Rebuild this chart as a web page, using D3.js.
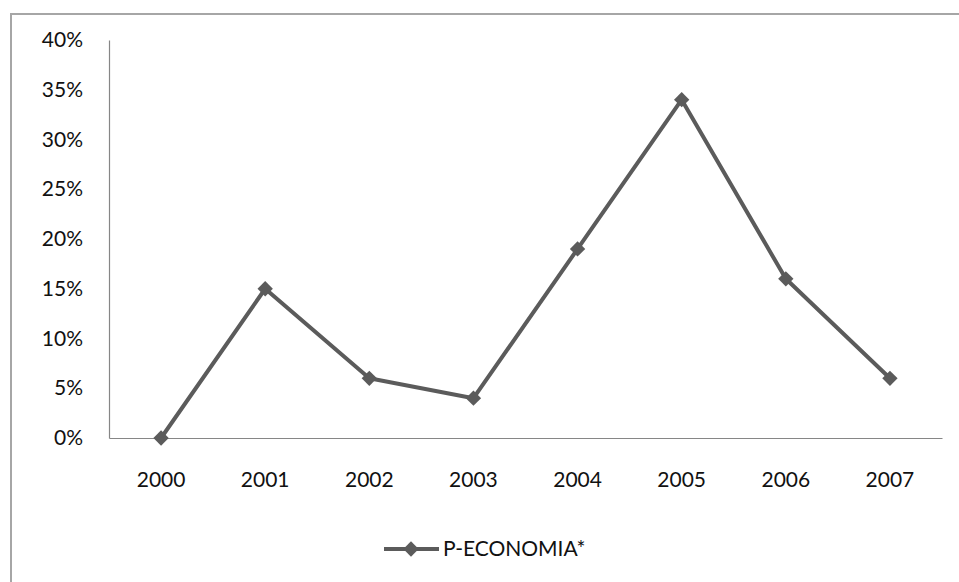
<!DOCTYPE html>
<html><head><meta charset="utf-8">
<script src="https://cdn.jsdelivr.net/npm/d3@7"></script>
<style>html,body{margin:0;padding:0;background:#fff;}svg{display:block;}</style>
</head><body>
<svg id="chart" width="959" height="582"></svg>
<script>
const categories = ["2000","2001","2002","2003","2004","2005","2006","2007"];
const values = [0, 15, 6, 4, 19, 34, 16, 6];
const yTicks = [0, 5, 10, 15, 20, 25, 30, 35, 40];
const seriesName = "P-ECONOMIA*";

const svg = d3.select("#chart");
const font = "Lato, 'Open Sans', sans-serif";
const fs = 21;
const lineColor = "#5b5b5b";
const textColor = "#111";

svg.append("rect").attr("x", 11).attr("y", 14).attr("width", 1000).attr("height", 1000)
  .attr("fill", "none").attr("stroke", "#a6a6a6").attr("stroke-width", 2);

const m = {left: 109, right: 942, top: 40, bottom: 438};
const x = d3.scaleBand().domain(categories).range([m.left, m.right]);
const y = d3.scaleLinear().domain([0, 40]).range([m.bottom, m.top]);

const yAxis = svg.append("g").attr("transform", `translate(${m.left},0)`)
  .call(d3.axisLeft(y).tickValues(yTicks).tickFormat(d => d + "%").tickSize(0).tickPadding(26));
yAxis.select(".domain").attr("stroke", "#868686").attr("stroke-width", 1.2);
yAxis.selectAll("text").attr("font-family", font).attr("font-size", fs).attr("fill", textColor);

const xAxis = svg.append("g").attr("transform", `translate(0,${m.bottom})`)
  .call(d3.axisBottom(x).tickSize(0).tickPadding(34));
xAxis.select(".domain").attr("stroke", "#868686").attr("stroke-width", 1.2);
xAxis.selectAll("text").attr("font-family", font).attr("font-size", fs).attr("fill", textColor);

const pts = categories.map((c, i) => [x(c) + x.bandwidth() / 2, y(values[i])]);
svg.append("path").datum(pts).attr("d", d3.line()).attr("fill", "none")
  .attr("stroke", lineColor).attr("stroke-width", 4).attr("stroke-linejoin", "round");

const diamond = d3.symbol().type(d3.symbolDiamond2).size(150);
svg.selectAll(".mk").data(pts).join("path").attr("class", "mk")
  .attr("d", diamond).attr("transform", d => `translate(${d[0]},${d[1]})`).attr("fill", lineColor);

const lg = svg.append("g");
lg.append("line").attr("x1", 384).attr("x2", 439).attr("y1", 549).attr("y2", 549)
  .attr("stroke", lineColor).attr("stroke-width", 4);
lg.append("path").attr("d", diamond).attr("transform", "translate(411,549)").attr("fill", lineColor);
lg.append("text").attr("x", 443).attr("y", 549).attr("dy", "0.35em").text(seriesName)
  .attr("font-family", font).attr("font-size", fs).attr("fill", textColor);
</script>
</body></html>
